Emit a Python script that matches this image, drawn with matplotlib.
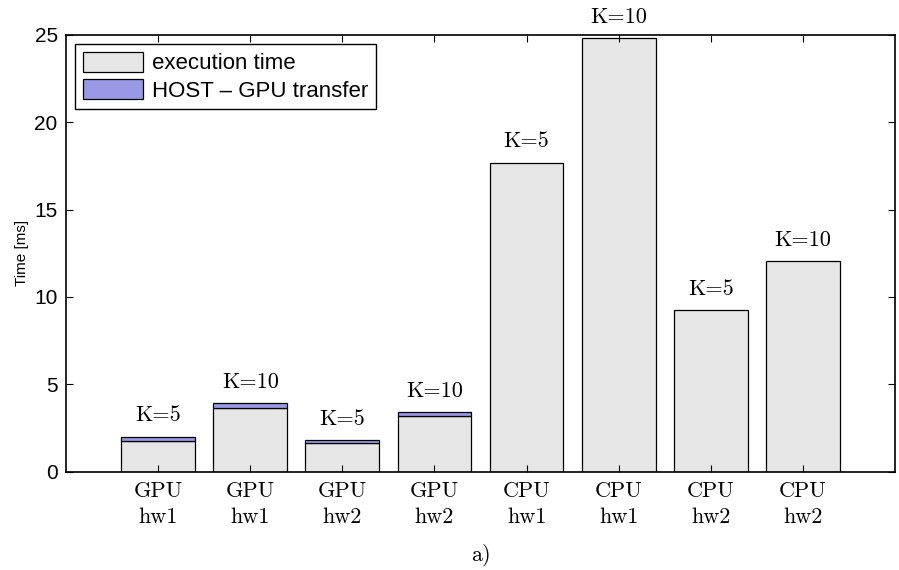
import matplotlib
matplotlib.use('Agg')
import matplotlib.pyplot as plt
import numpy as np

# bar data
labels = ['GPU\nhw1', 'GPU\nhw1', 'GPU\nhw2', 'GPU\nhw2',
          'CPU\nhw1', 'CPU\nhw1', 'CPU\nhw2', 'CPU\nhw2']
k_labels = ['K=5', 'K=10', 'K=5', 'K=10', 'K=5', 'K=10', 'K=5', 'K=10']
exec_time = [1.75, 3.62, 1.62, 3.16, 17.69, 24.81, 9.25, 12.06]
transfer = [0.25, 0.29, 0.19, 0.23, 0, 0, 0, 0]

gray = '#e6e6e6'
blue = '#9999e6'

plt.rcParams['font.family'] = ['Liberation Sans', 'DejaVu Sans']

fig = plt.figure(figsize=(8.99, 5.70), dpi=100)
ax = fig.add_axes([0.0734, 0.1728, 0.9222, 0.7658])

x = np.arange(1, len(labels) + 1)
ax.bar(x, exec_time, width=0.8, color=gray, edgecolor='black', linewidth=0.9,
       label='execution time')
ax.bar(x[:4], transfer[:4], width=0.8, bottom=exec_time[:4], color=blue,
       edgecolor='black', linewidth=0.9, label='HOST – GPU transfer')

# K=.. annotations above each bar
tops = np.array(exec_time) + np.array(transfer)
for xi, top, k in zip(x, tops, k_labels):
    ax.annotate(k, (xi, top), xytext=(0, 11), textcoords='offset points',
                ha='center', va='baseline', fontsize=16, family='cmr10')

ax.set_xlim(0, 9)
ax.set_ylim(0, 25)
ax.set_xticks(x)
ax.set_xticklabels(labels, family='cmr10', fontsize=16, linespacing=1.45)
ax.set_yticks([0, 5, 10, 15, 20, 25])
ax.tick_params(axis='y', labelsize=15, direction='in', length=5, right=True, pad=6)
ax.tick_params(axis='x', direction='in', length=5, top=True, pad=7)
for s in ax.spines.values():
    s.set_linewidth(1.2)

ax.set_ylabel('Time [ms]', fontsize=11, labelpad=4)
ax.set_xlabel('a)', family='cmr10', fontsize=16, labelpad=12)

leg = ax.legend(loc='upper left', fontsize=16, fancybox=False, edgecolor='black',
                framealpha=1, handlelength=2.7, handleheight=1.0,
                handletextpad=0.4, labelspacing=0.22, borderpad=0.35,
                borderaxespad=0.4)
leg.get_frame().set_linewidth(1.0)

fig.savefig('out.png', dpi=100)
